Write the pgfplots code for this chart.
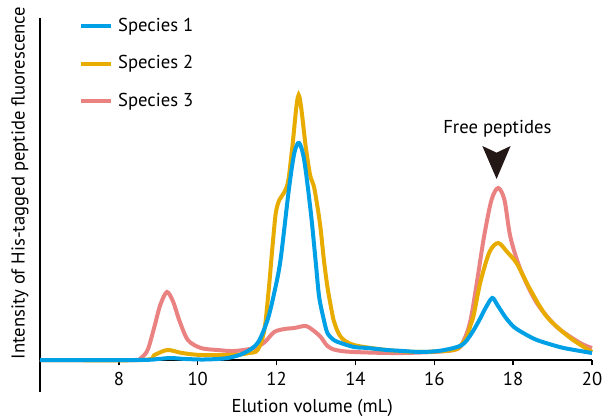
\documentclass[border=0pt]{standalone}
\usepackage{fontspec}
\setmainfont{PT Sans}
\usepackage{pgfplots}
\pgfplotsset{compat=1.18}
\definecolor{sp1}{RGB}{0,160,230}
\definecolor{sp2}{RGB}{232,172,0}
\definecolor{sp3}{RGB}{234,130,130}
\definecolor{arrowc}{RGB}{35,24,21}
\begin{document}
\fontsize{14}{16.8}\selectfont
\begin{tikzpicture}
\begin{axis}[
  scale only axis, width=414pt, height=280.5pt,
  xmin=6, xmax=20, ymin=-32, ymax=342,
  axis x line*=middle, axis y line*=left,
  every axis x label/.style={at={(axis description cs:0.493,-0.0428)}, anchor=center},
  every axis y label/.style={at={(axis description cs:-0.0362,0.559)}, rotate=90, anchor=center},
  xlabel={Elution volume (mL)},
  ylabel={Intensity of His-tagged peptide fluorescence},
  ytick=\empty,
  xtick={8,10,...,20},
  xtick align=outside,
  major tick length=4pt,
  tick style={line width=1pt, black},
  axis line style={line width=1pt, black},
  /pgf/number format/assume math mode=true,
  clip=false,
  legend style={draw=none, fill=none, at={(axis description cs:0.071,1.004)}, anchor=north west,
    row sep=14pt, column sep=2.5pt, inner sep=0pt, nodes={inner sep=1pt, font=\fontsize{14}{16.8}\selectfont}},
  legend cell align=left,
  legend image code/.code={\draw[#1] (0pt,0pt) -- (22.5pt,0pt);},
  reverse legend,
  every axis plot/.append style={line width=3pt, smooth, tension=0.5},
]
\addplot[sp3] coordinates {
(6,0) (8.4,0) (8.56,2) (8.73,10) (8.9,33) (9.05,55) (9.22,68) (9.38,58) (9.53,40)
(9.75,20) (10.08,12) (10.5,10) (10.93,9) (11.43,12) (11.7,18) (11.94,28) (12.2,31)
(12.45,32) (12.74,34) (12.95,29) (13.12,23) (13.29,14) (13.5,10) (13.96,8) (15.23,7)
(16.5,10) (16.75,20) (16.92,40) (17.09,80) (17.26,123) (17.45,160) (17.62,172)
(17.78,160) (17.93,123) (18.19,90) (18.6,57) (19.11,33) (19.7,17) (20,12)
};
\addlegendentry{Species 3}
\addplot[sp2] coordinates {
(6,0) (8.6,0) (8.9,5) (9.23,10) (9.6,7) (10.08,5) (10.93,5) (11.3,7) (11.52,10)
(11.69,30) (11.8,70) (11.9,115) (11.98,147) (12.07,160) (12.2,168) (12.3,180)
(12.4,213) (12.56,265) (12.74,213) (12.85,185) (12.95,173) (13.05,150) (13.12,130)
(13.2,100) (13.29,73) (13.37,55) (13.46,38) (13.63,23) (13.96,15) (14.8,10) (15.6,8)
(16.49,10) (16.7,16) (16.83,23) (16.92,35) (17.0,45) (17.17,78) (17.4,108) (17.62,117)
(17.85,108) (18.1,96) (18.44,70) (18.86,43) (19.45,22) (20,8)
};
\addlegendentry{Species 2}
\addplot[sp1] coordinates {
(6,0) (8.5,0) (9.0,1) (9.3,2) (9.7,1) (10.2,0.5) (10.76,2) (11.18,7) (11.52,17)
(11.77,40) (11.94,67) (12.1,100) (12.31,170) (12.45,207) (12.57,217) (12.7,200)
(12.87,147) (13.0,95) (13.08,63) (13.2,40) (13.29,27) (13.45,20) (13.63,17) (13.96,13)
(14.3,12) (14.8,10) (15.2,9) (15.65,8) (16.1,9) (16.49,12) (16.7,15) (16.83,20)
(17.0,30) (17.17,42) (17.3,52) (17.47,62) (17.6,55) (17.8,43) (18.02,33) (18.3,26)
(18.6,20) (19.0,15) (19.28,12) (19.7,9) (20,7)
};
\addlegendentry{Species 1}
\node[anchor=center] at (axis cs:17.6,231) {Free peptides};
\fill[arrowc] (axis cs:17.58,181) -- ++(-10.7pt,24.75pt) -- ++(10.7pt,-5pt) -- ++(10.5pt,5pt) -- cycle;
\end{axis}
\pgfresetboundingbox
\path (-30pt,-21pt) rectangle (426.75pt,294pt);
\end{tikzpicture}
\end{document}
